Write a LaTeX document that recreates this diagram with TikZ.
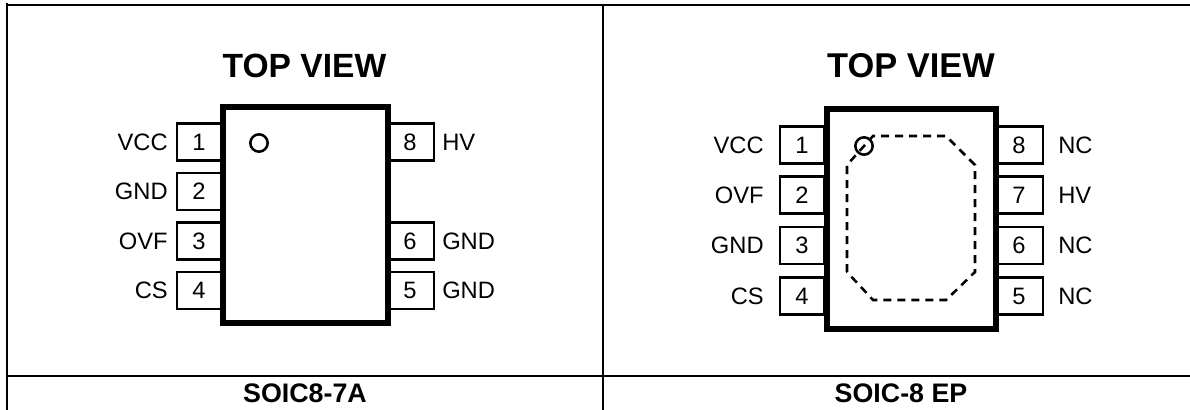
\documentclass[tikz,border=0pt]{standalone}
\usepackage{fontspec}
\setmainfont{Liberation Sans}
\tikzset{
	frameline/.style={line width=1.5pt},
	chipbody/.style={draw, line width=4.5pt, fill=white, rectangle, inner sep=0pt},
	pinbox/.style={draw, line width=1.8pt, fill=white, rectangle, inner sep=0pt, minimum width=33pt, minimum height=28pt, font=\fontsize{17.8}{20}\selectfont},
	rightpin/.style={pinbox, minimum width=36pt},
	pinlabel/.style={inner sep=0pt, font=\fontsize{17.8}{20}\selectfont},
	viewtitle/.style={inner sep=0pt, font=\fontsize{25.2}{28}\selectfont\bfseries},
	pkgname/.style={inner sep=0pt, font=\fontsize{20.1}{22}\selectfont\bfseries},
	pinone/.style={draw, circle, line width=1.9pt, inner sep=0pt, minimum size=13pt},
	padline/.style={line width=1.9pt, dash pattern=on 6pt off 4.5pt}
}
\begin{document}
\begin{tikzpicture}[x=0.75pt, y=-0.75pt]
		\useasboundingbox (0, 0) rectangle (1190, 410);
		%%%%% table %%%%%
		\draw[frameline] (6, 5) -- (1190, 5);
		\draw[frameline] (6, 375.7) -- (1190, 375.7);
		\draw[frameline] (7, 3) -- (7, 410);
		\draw[frameline] (603, 5) -- (603, 410);
		
		\node[pkgname] (nameA) at (305, 393.5) {SOIC8-7A};
		\node[pkgname] (nameB) at (901, 393.5) {SOIC-8 EP};
		
		%%%%% left package %%%%%
		\node[viewtitle] (titleA) at (304.5, 66) {TOP VIEW};
		
		\node[pinbox] (a1) at (199, 142) {1};
		\node[pinbox] (a2) at (199, 191.5) {2};
		\node[pinbox] (a3) at (199, 241) {3};
		\node[pinbox] (a4) at (199, 290.5) {4};
		\node[rightpin] (a8) at (410, 142) {8};
		\node[rightpin] (a6) at (410, 241) {6};
		\node[rightpin] (a5) at (410, 290.5) {5};
		
		\node[chipbody, minimum width=124pt, minimum height=162pt] (chipA) at (305.5, 215) {};
		\node[pinone] (dotA) at (259, 143) {};
		
		\node[pinlabel, anchor=east] (a1name) at (168, 142) {VCC};
		\node[pinlabel, anchor=east] (a2name) at (168, 191.5) {GND};
		\node[pinlabel, anchor=east] (a3name) at (168, 241) {OVF};
		\node[pinlabel, anchor=east] (a4name) at (168, 290.5) {CS};
		\node[pinlabel, anchor=west] (a8name) at (442, 142) {HV};
		\node[pinlabel, anchor=west] (a6name) at (442, 241) {GND};
		\node[pinlabel, anchor=west] (a5name) at (442, 290.5) {GND};
		
		%%%%% right package %%%%%
		\node[viewtitle, font=\fontsize{25.8}{28}\selectfont\bfseries] (titleB) at (911, 65.5) {TOP VIEW};
		
		\node[pinbox] (b1) at (802, 145) {1};
		\node[pinbox] (b2) at (802, 195) {2};
		\node[pinbox] (b3) at (802, 245.5) {3};
		\node[pinbox] (b4) at (802, 296) {4};
		\node[rightpin] (b8) at (1019, 145) {8};
		\node[rightpin] (b7) at (1019, 195) {7};
		\node[rightpin] (b6) at (1019, 245.5) {6};
		\node[rightpin] (b5) at (1019, 296) {5};
		
		\node[chipbody, minimum width=127pt, minimum height=165pt] (chipB) at (911.5, 219) {};
		
		\draw[padline] (847, 272) -- (847, 165) -- (873, 136) -- (946, 136) -- (975, 165) -- (975, 272) -- (946, 300) -- (873, 300) -- cycle;
		\node[pinone] (dotB) at (864, 146) {};
		
		\node[pinlabel, anchor=east] (b1name) at (764, 145) {VCC};
		\node[pinlabel, anchor=east] (b2name) at (764, 195) {OVF};
		\node[pinlabel, anchor=east] (b3name) at (764, 245.5) {GND};
		\node[pinlabel, anchor=east] (b4name) at (764, 296) {CS};
		\node[pinlabel, anchor=west] (b8name) at (1058, 145) {NC};
		\node[pinlabel, anchor=west] (b7name) at (1058, 195) {HV};
		\node[pinlabel, anchor=west] (b6name) at (1058, 245.5) {NC};
		\node[pinlabel, anchor=west] (b5name) at (1058, 296) {NC};
	\end{tikzpicture}
\end{document}
